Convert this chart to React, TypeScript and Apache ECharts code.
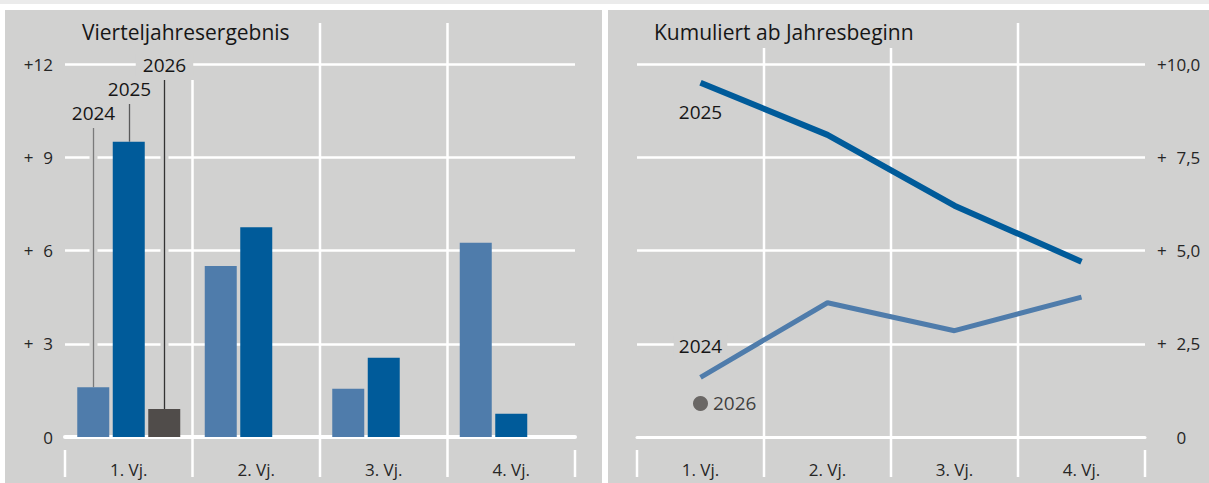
import React, { useEffect, useRef } from "react";
import * as echarts from "echarts";

// Quarter categories and values (per cent)
const quarters = ["1. Vj.", "2. Vj.", "3. Vj.", "4. Vj."];
const years = ["2024", "2025", "2026"];

// Quarterly result
const q2024 = [1.6, 5.5, 1.55, 6.25];
const q2025 = [9.5, 6.75, 2.55, 0.75];
const q2026 = [0.9, null, null, null];

// Cumulative since start of year
const cum2024 = [1.6, 3.6, 2.85, 3.75];
const cum2025 = [9.5, 8.1, 6.2, 4.7];
const cum2026 = [0.9];

const FONT = '"Open Sans", "Noto Sans", sans-serif';
const PANEL = "#d1d1d0";
const C2024 = "#4f7cab";
const C2025 = "#005b9a";
const C2026 = "#504c4a";
const TEXT = "#161616";

const W = 1209;
const H = 483;
const ZERO_Y = 437;
const TOP = 64;
const LEFT_GRID = { left: 65, width: 510 };
const RIGHT_GRID = { left: 637, width: 508 };
const BAR_W = 32;
const BAR_GAP = 3.5;

const figSpace = "\u2007";
const fmtLeft = (v: number) => (v === 0 ? "0" : "+" + (v < 10 ? figSpace : "") + v);
const fmtRight = (v: number) =>
  v === 0 ? figSpace + figSpace + "0" : "+" + (v < 10 ? figSpace : "") + v.toFixed(1).replace(".", ",");

export default function App() {
  const ref = useRef<HTMLDivElement>(null);

  useEffect(() => {
    document.body.style.margin = "0";
    const chart = echarts.init(ref.current!, null, { renderer: "svg" });

    const axisLabelStyle = { color: "#262626", fontFamily: FONT, fontSize: 17 };
    const yearLabel = { color: TEXT, fontFamily: FONT, fontSize: 19 };

    chart.setOption({
      animation: false,
      backgroundColor: "#ffffff",
      grid: [
        { left: LEFT_GRID.left, width: LEFT_GRID.width, top: TOP, bottom: H - ZERO_Y, containLabel: false },
        { left: RIGHT_GRID.left, width: RIGHT_GRID.width, top: TOP, bottom: H - ZERO_Y, containLabel: false },
      ],
      xAxis: [
        {
          type: "category",
          gridIndex: 0,
          data: quarters,
          axisLine: { show: true, lineStyle: { color: "#ffffff", width: 4 } },
          axisTick: { show: false },
          splitLine: { show: false },
          axisLabel: { ...axisLabelStyle, margin: 24 },
        },
        {
          type: "category",
          gridIndex: 1,
          data: quarters,
          axisLine: { show: true, lineStyle: { color: "#ffffff", width: 3 } },
          axisTick: { show: false },
          splitLine: { show: false },
          axisLabel: { ...axisLabelStyle, margin: 24 },
        },
      ],
      yAxis: [
        {
          type: "value",
          gridIndex: 0,
          min: 0,
          max: 12,
          interval: 3,
          axisLine: { show: false },
          axisTick: { show: false },
          splitLine: { show: true, lineStyle: { color: "#ffffff", width: 2.5 } },
          axisLabel: { ...axisLabelStyle, margin: 12, formatter: fmtLeft },
        },
        {
          type: "value",
          gridIndex: 1,
          position: "right",
          min: 0,
          max: 10,
          interval: 2.5,
          axisLine: { show: false },
          axisTick: { show: false },
          splitLine: { show: true, lineStyle: { color: "#ffffff", width: 2.5 } },
          axisLabel: { ...axisLabelStyle, margin: 12, formatter: fmtRight },
        },
      ],
      series: [
        {
          name: years[0],
          type: "bar",
          xAxisIndex: 0,
          yAxisIndex: 0,
          data: q2024,
          barWidth: BAR_W,
          barGap: (BAR_GAP / BAR_W) * 100 + "%",
          itemStyle: { color: C2024 },
          z: 3,
        },
        {
          name: years[1],
          type: "bar",
          xAxisIndex: 0,
          yAxisIndex: 0,
          data: q2025,
          barWidth: BAR_W,
          barGap: (BAR_GAP / BAR_W) * 100 + "%",
          itemStyle: { color: C2025 },
          z: 3,
        },
        {
          name: years[2],
          type: "bar",
          xAxisIndex: 0,
          yAxisIndex: 0,
          data: q2026,
          barWidth: BAR_W,
          barGap: (BAR_GAP / BAR_W) * 100 + "%",
          itemStyle: { color: C2026 },
          z: 3,
        },
        {
          name: years[0],
          type: "line",
          xAxisIndex: 1,
          yAxisIndex: 1,
          data: cum2024.map((v, i) =>
            i === 0
              ? {
                  value: v,
                  label: {
                    show: true,
                    position: "top",
                    distance: 21,
                    formatter: years[0],
                    ...yearLabel,
                    backgroundColor: PANEL,
                    padding: [1, 5],
                  },
                }
              : v
          ),
          symbol: "circle",
          symbolSize: 0.1,
          itemStyle: { color: C2024 },
          lineStyle: { color: C2024, width: 5 },
          z: 3,
        },
        {
          name: years[1],
          type: "line",
          xAxisIndex: 1,
          yAxisIndex: 1,
          data: cum2025.map((v, i) =>
            i === 0
              ? {
                  value: v,
                  label: {
                    show: true,
                    position: "bottom",
                    distance: 20,
                    formatter: years[1],
                    ...yearLabel,
                  },
                }
              : v
          ),
          symbol: "circle",
          symbolSize: 0.1,
          itemStyle: { color: C2025 },
          lineStyle: { color: C2025, width: 6 },
          z: 3,
        },
        {
          name: years[2],
          type: "scatter",
          xAxisIndex: 1,
          yAxisIndex: 1,
          data: cum2026,
          symbolSize: 15,
          itemStyle: { color: C2026 },
          label: {
            show: true,
            position: "right",
            distance: 5,
            formatter: years[2],
            ...yearLabel,
          },
          z: 4,
        },
      ],
    });

    // Panels, vertical separators and bottom ticks
    const graphics: any[] = [
      { type: "rect", z: -10, shape: { x: 0, y: 0, width: W, height: 4 }, style: { fill: "#ebebeb" } },
      { type: "rect", z: -10, shape: { x: 5, y: 10, width: 597, height: H - 10 }, style: { fill: PANEL } },
      { type: "rect", z: -10, shape: { x: 608, y: 10, width: W - 608, height: H - 10 }, style: { fill: PANEL } },
    ];
    const vLine = (x: number, y1: number, y2: number, w = 2.5) => ({
      type: "line",
      z: 0,
      silent: true,
      shape: { x1: x, y1, x2: x, y2 },
      style: { stroke: "#ffffff", lineWidth: w },
    });
    const leftTops = [80, 23, 23];
    const rightTops = [48, 48, 23];
    for (let i = 1; i < 4; i++) {
      graphics.push(vLine(LEFT_GRID.left + (i * LEFT_GRID.width) / 4, leftTops[i - 1], 477));
      graphics.push(vLine(RIGHT_GRID.left + (i * RIGHT_GRID.width) / 4, rightTops[i - 1], 477));
    }
    graphics.push(vLine(LEFT_GRID.left, 450, 477));
    graphics.push(vLine(LEFT_GRID.left + LEFT_GRID.width, 450, 477));
    graphics.push(vLine(RIGHT_GRID.left, 450, 477));
    graphics.push(vLine(RIGHT_GRID.left + RIGHT_GRID.width, 450, 477));

    // Titles
    graphics.push({
      type: "text",
      z: 5,
      x: 82,
      y: 32,
      style: { text: "Vierteljahresergebnis", fill: TEXT, font: `21px ${FONT}`, verticalAlign: "middle" },
    });
    graphics.push({
      type: "text",
      z: 5,
      x: 654,
      y: 32,
      style: { text: "Kumuliert ab Jahresbeginn", fill: TEXT, font: `21px ${FONT}`, verticalAlign: "middle" },
    });

    // Year labels with leader lines to the first-quarter bars
    const firstValues = [q2024[0], q2025[0], q2026[0] as number];
    const labelY = [113, 89, 65];
    const leaderColors = ["#7a7a7a", "#5a5a5a", "#333333"];
    const cx = chart.convertToPixel({ xAxisIndex: 0 }, 0) as number;
    firstValues.forEach((v, k) => {
      const x = Math.round(cx + (k - 1) * (BAR_W + BAR_GAP)) + 0.5;
      const yTop = labelY[k] + 15;
      const yBar = chart.convertToPixel({ yAxisIndex: 0 }, v) as number;
      graphics.push({
        type: "line",
        z: 1,
        silent: true,
        shape: { x1: x, y1: yTop, x2: x, y2: yBar },
        style: { stroke: PANEL, lineWidth: 8 },
      });
      graphics.push({
        type: "line",
        z: 2,
        silent: true,
        shape: { x1: x, y1: yTop, x2: x, y2: yBar },
        style: { stroke: leaderColors[k], lineWidth: 1.3 },
      });
      graphics.push({
        type: "text",
        z: 5,
        x,
        y: labelY[k],
        style: {
          text: years[k],
          fill: TEXT,
          font: `19px ${FONT}`,
          align: "center",
          verticalAlign: "middle",
          backgroundColor: k === 2 ? PANEL : undefined,
          padding: k === 2 ? [2, 7] : 0,
        },
      });
    });

    chart.setOption({ graphic: graphics });

    return () => chart.dispose();
  }, []);

  return <div ref={ref} style={{ width: W, height: H }} />;
}
